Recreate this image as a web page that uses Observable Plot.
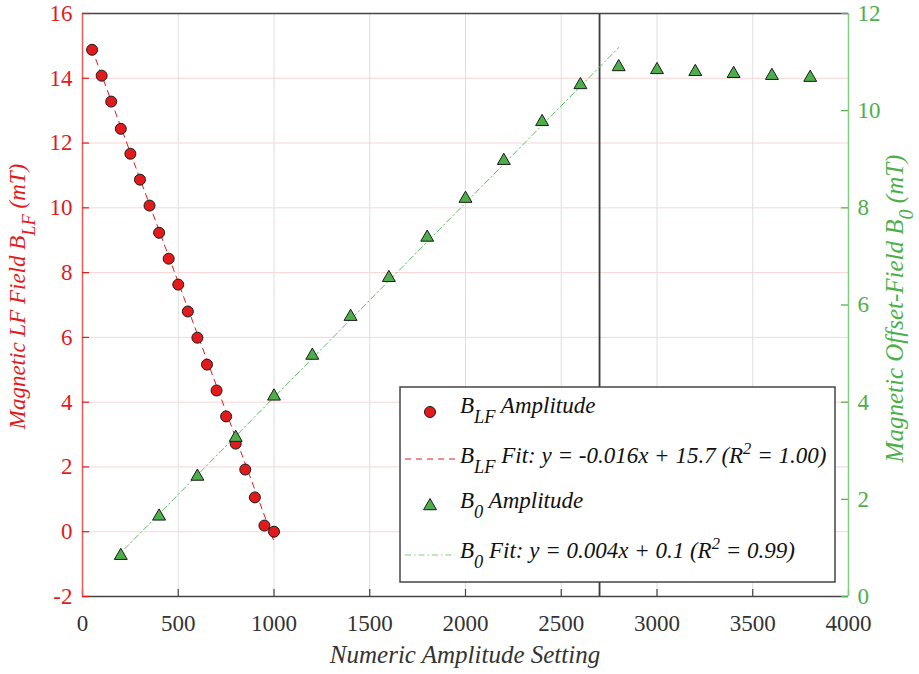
<!DOCTYPE html>
<html><head><meta charset="utf-8">
<script src="https://cdn.jsdelivr.net/npm/d3@7"></script>
<script src="https://cdn.jsdelivr.net/npm/@observablehq/plot@0.6"></script>
<style>body{margin:0;background:#fff}svg{display:block}</style>
</head><body><div id="chart"></div>
<script>
// ---- data ----
const blfX = [50,100,150,200,250,300,350,400,450,500,550,600,650,700,750,800,850,900,950,1000];
const blfY = [14.88,14.08,13.28,12.44,11.67,10.87,10.07,9.23,8.43,7.63,6.80,5.99,5.16,4.36,3.56,2.72,1.92,1.06,0.19,0.0];
const b0X = [200,400,600,800,1000,1200,1400,1600,1800,2000,2200,2400,2600,2800,3000,3200,3400,3600,3800];
const b0Y = [0.84,1.65,2.47,3.27,4.12,4.96,5.76,6.56,7.39,8.19,8.97,9.77,10.53,10.90,10.84,10.80,10.76,10.72,10.68];
const blfFitCoef = [-0.016, 15.7];   // slope, intercept (from legend)
const blfFitRange = [50, 1000];
const b0FitCoef = [0.004, 0.1];
const b0FitRange = [170, 2800];
const cutoffX = [2700];
const xTicks = [0,500,1000,1500,2000,2500,3000,3500,4000];
const leftTicks = [-2,0,2,4,6,8,10,12,14,16];
const rightTicks = [0,2,4,6,8,10,12];
const leftDomain = [-2,16];
const rightDomain = [0,12];
const xTitle = "Numeric Amplitude Setting";
const legendLabels = [
  [["B",0],["LF",1],[" Amplitude",0]],
  [["B",0],["LF",1],[" Fit: y = -0.016x + 15.7 (R",0],["2",-1],[" = 1.00)",0]],
  [["B",0],["0",1],[" Amplitude",0]],
  [["B",0],["0",1],[" Fit: y = 0.004x + 0.1 (R",0],["2",-1],[" = 0.99)",0]]
];
const leftTitle = [["Magnetic LF Field B",0],["LF",1],[" (mT)",0]];
const rightTitle = [["Magnetic Offset-Field B",0],["0",1],[" (mT)",0]];

// ---- styling ----
const RED = "#e31a1c", GREEN = "#4daf4a", DARK = "#444";
const W = 919, H = 674, ML = 82, MR = 71, MT = 13, MB = 78;
const PW = W - ML - MR, PH = H - MT - MB;
const FONT = "'Liberation Serif', 'DejaVu Serif', serif";

const toLeft = v => leftDomain[0] + (v - rightDomain[0]) * (leftDomain[1]-leftDomain[0]) / (rightDomain[1]-rightDomain[0]);
const fromLeft = v => rightDomain[0] + (v - leftDomain[0]) * (rightDomain[1]-rightDomain[0]) / (leftDomain[1]-leftDomain[0]);

const blf = blfX.map((x,i) => ({x, y: blfY[i]}));
const b0 = b0X.map((x,i) => ({x, y: toLeft(b0Y[i])}));
const blfFit = blfFitRange.map(x => ({x, y: blfFitCoef[0]*x + blfFitCoef[1]}));
const b0Fit = b0FitRange.map(x => ({x, y: toLeft(b0FitCoef[0]*x + b0FitCoef[1])}));
const rightTicksL = rightTicks.map(toLeft);

const plot = Plot.plot({
  width: W, height: H,
  marginLeft: ML, marginRight: MR, marginTop: MT, marginBottom: MB,
  x: {domain: [0, 4000]},
  y: {domain: leftDomain},
  style: {fontFamily: FONT, fontSize: "23px", background: "white", overflow: "visible"},
  marks: [
    Plot.gridX(xTicks.slice(1, -1), {stroke: "#dedede", strokeOpacity: 1, strokeWidth: 1}),
    Plot.gridY(leftTicks.slice(1, -1), {stroke: "#f9d5d6", strokeOpacity: 1, strokeWidth: 1}),
    Plot.ruleX(cutoffX, {stroke: "#3a3a3a", strokeWidth: 1.8}),
    Plot.line(blfFit, {x: "x", y: "y", stroke: RED, strokeWidth: 1, strokeDasharray: "6,5"}),
    Plot.line(b0Fit, {x: "x", y: "y", stroke: "#5cbf59", strokeWidth: 1, strokeDasharray: "6,3,1.5,3"}),
    Plot.dot(blf, {x: "x", y: "y", r: 5.5, fill: RED, stroke: "#1a1a1a", strokeWidth: 1}),
    Plot.dot(b0, {x: "x", y: "y", r: 4.8, symbol: "triangle", fill: GREEN, stroke: "#1a1a1a", strokeWidth: 1}),
    Plot.ruleY([leftDomain[1]], {stroke: DARK, strokeWidth: 1.3}),
    Plot.ruleY([leftDomain[0]], {stroke: DARK, strokeWidth: 1.3}),
    Plot.tickX(xTicks, {x: d => d, insetTop: PH - 7, stroke: DARK, strokeWidth: 1.2}),
    Plot.ruleX([0], {stroke: "#e9585b", strokeWidth: 1.5}),
    Plot.ruleX([4000], {stroke: "#86cc84", strokeWidth: 1.5}),
    Plot.tickY(leftTicks, {y: d => d, insetRight: PW - 7, stroke: RED, strokeWidth: 1.2}),
    Plot.tickY(rightTicksL, {y: d => d, insetLeft: PW - 7, stroke: GREEN, strokeWidth: 1.2}),
    Plot.axisX({ticks: xTicks, tickSize: 0, tickPadding: 18, label: null, fill: "#333", tickFormat: d => String(d)}),
    Plot.axisY({ticks: leftTicks, tickSize: 0, tickPadding: 10, label: null, fill: RED, tickFormat: d => String(d)}),
    Plot.axisY({anchor: "right", ticks: rightTicksL, tickSize: 0, tickPadding: 9, label: null, fill: GREEN,
                tickFormat: d => String(Math.round(fromLeft(d)))})
  ]
});
document.getElementById("chart").appendChild(plot);

// ---- rich text helper (sub/superscripts) ----
function rich(sel, parts, size) {
  let off = 0;
  parts.forEach(([t, s]) => {
    const target = s === 1 ? 10 : s === -1 ? -9 : 0;
    sel.append("tspan")
      .attr("dy", target - off)
      .attr("font-size", s === 0 ? size : size * (s === 1 ? 0.8 : 0.72))
      .text(t);
    off = target;
  });
}

const svg = d3.select(plot);
// axis titles
svg.append("text").attr("x", ML + PW/2).attr("y", 663)
  .attr("text-anchor", "middle").attr("font-style", "italic").attr("font-size", 25)
  .attr("fill", "#333").attr("font-family", FONT).text(xTitle);
const lt = svg.append("text").attr("transform", `translate(25,${MT + PH/2 - 8}) rotate(-90)`)
  .attr("text-anchor", "middle").attr("font-style", "italic").attr("font-family", FONT).attr("fill", RED);
rich(lt, leftTitle, 23);
const rt = svg.append("text").attr("transform", `translate(903,${MT + PH/2 + 4}) rotate(-90)`)
  .attr("text-anchor", "middle").attr("font-style", "italic").attr("font-family", FONT).attr("fill", GREEN);
rich(rt, rightTitle, 25);

// legend
const lg = svg.append("g").attr("font-family", FONT).attr("font-style", "italic").attr("fill", "#111")
  .attr("text-anchor", "start");
lg.append("rect").attr("x", 400).attr("y", 387).attr("width", 435).attr("height", 195)
  .attr("fill", "white").attr("stroke", "#444").attr("stroke-width", 1.5);
const rowsY = [412, 459, 506, 555];
lg.append("circle").attr("cx", 430).attr("cy", rowsY[0]).attr("r", 5.5).attr("fill", RED).attr("stroke", "#1a1a1a");
lg.append("line").attr("x1", 405).attr("x2", 455).attr("y1", rowsY[1]).attr("y2", rowsY[1])
  .attr("stroke", RED).attr("stroke-dasharray", "6,5");
lg.append("path").attr("d", d3.symbol(d3.symbolTriangle, Math.PI * 4.8 * 4.8)())
  .attr("transform", `translate(430,${rowsY[2]})`).attr("fill", GREEN).attr("stroke", "#1a1a1a");
lg.append("line").attr("x1", 405).attr("x2", 455).attr("y1", rowsY[3]).attr("y2", rowsY[3])
  .attr("stroke", "#7fcf7c").attr("stroke-width", 1.2).attr("stroke-dasharray", "6,3,1.5,3");
const baselines = [413, 463, 508, 558];
legendLabels.forEach((parts, i) => {
  const t = lg.append("text").attr("x", 460).attr("y", baselines[i]).attr("fill", "#111")
    .attr("text-anchor", "start");
  rich(t, parts, 23);
});
</script></body></html>
